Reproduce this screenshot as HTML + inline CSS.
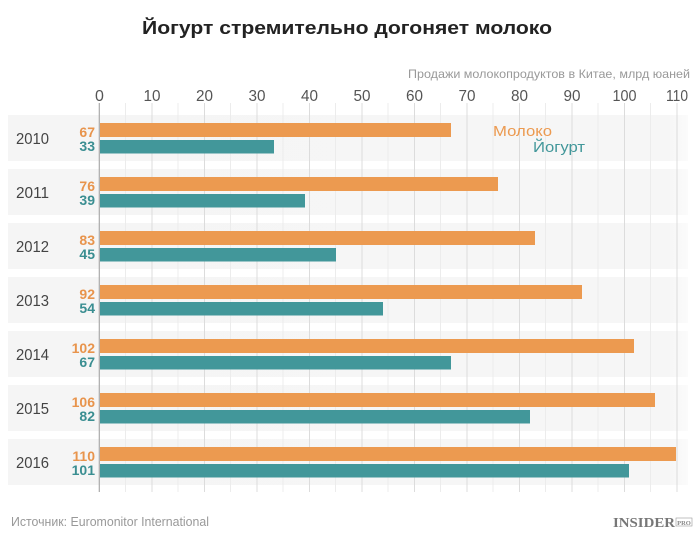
<!DOCTYPE html>
<html><head><meta charset="utf-8"><style>
html,body{margin:0;padding:0;background:#fff;}
svg{display:block;font-family:"Liberation Sans","DejaVu Sans",sans-serif;}
</style></head><body>
<svg width="700" height="539" viewBox="0 0 700 539" xmlns="http://www.w3.org/2000/svg">
<defs>
<linearGradient id="bandg" x1="0" x2="1" y1="0" y2="0">
<stop offset="0" stop-color="#f5f5f5"/><stop offset="0.97" stop-color="#f6f6f6"/><stop offset="1" stop-color="#fbfbfb"/>
</linearGradient>
</defs>
<rect width="700" height="539" fill="#fff"/>
<text x="142" y="34" font-size="18.5" font-weight="bold" fill="#222" textLength="410" lengthAdjust="spacingAndGlyphs">Йогурт стремительно догоняет молоко</text>
<text x="408" y="78" font-size="12" fill="#999" textLength="282" lengthAdjust="spacingAndGlyphs">Продажи молокопродуктов в Китае, млрд юаней</text>
<!-- bands -->
<g fill="url(#bandg)">
<rect x="8" y="115" width="680" height="46"/>
<rect x="8" y="169" width="680" height="46"/>
<rect x="8" y="223" width="680" height="46"/>
<rect x="8" y="277" width="680" height="46"/>
<rect x="8" y="331" width="680" height="46"/>
<rect x="8" y="385" width="680" height="46"/>
<rect x="8" y="439" width="680" height="46"/>
</g>
<!-- minor gridlines (5s) -->
<g stroke="#ececec" stroke-width="1">
<line x1="125.5" y1="103" x2="125.5" y2="492"/>
<line x1="178" y1="103" x2="178" y2="492"/>
<line x1="230.5" y1="103" x2="230.5" y2="492"/>
<line x1="283" y1="103" x2="283" y2="492"/>
<line x1="335.5" y1="103" x2="335.5" y2="492"/>
<line x1="388" y1="103" x2="388" y2="492"/>
<line x1="440.5" y1="103" x2="440.5" y2="492"/>
<line x1="493" y1="103" x2="493" y2="492"/>
<line x1="545.5" y1="103" x2="545.5" y2="492"/>
<line x1="598" y1="103" x2="598" y2="492"/>
<line x1="650.5" y1="103" x2="650.5" y2="492"/>
</g>
<!-- major gridlines (10s) -->
<g stroke="#dcdcdc" stroke-width="1">
<line x1="152" y1="103" x2="152" y2="492"/>
<line x1="204.5" y1="103" x2="204.5" y2="492"/>
<line x1="257" y1="103" x2="257" y2="492"/>
<line x1="309.5" y1="103" x2="309.5" y2="492"/>
<line x1="362" y1="103" x2="362" y2="492"/>
<line x1="414.5" y1="103" x2="414.5" y2="492"/>
<line x1="467" y1="103" x2="467" y2="492"/>
<line x1="519.5" y1="103" x2="519.5" y2="492"/>
<line x1="572" y1="103" x2="572" y2="492"/>
<line x1="624.5" y1="103" x2="624.5" y2="492"/>
<line x1="677" y1="103" x2="677" y2="492"/>
</g>
<!-- tick labels -->
<g font-size="16" fill="#555" text-anchor="middle">
<text x="99.5" y="101">0</text>
<text x="152" y="101" textLength="17" lengthAdjust="spacingAndGlyphs">10</text>
<text x="204.5" y="101" textLength="17" lengthAdjust="spacingAndGlyphs">20</text>
<text x="257" y="101" textLength="17" lengthAdjust="spacingAndGlyphs">30</text>
<text x="309.5" y="101" textLength="17" lengthAdjust="spacingAndGlyphs">40</text>
<text x="362" y="101" textLength="17" lengthAdjust="spacingAndGlyphs">50</text>
<text x="414.5" y="101" textLength="17" lengthAdjust="spacingAndGlyphs">60</text>
<text x="467" y="101" textLength="17" lengthAdjust="spacingAndGlyphs">70</text>
<text x="519.5" y="101" textLength="17" lengthAdjust="spacingAndGlyphs">80</text>
<text x="572" y="101" textLength="17" lengthAdjust="spacingAndGlyphs">90</text>
<text x="624.5" y="101" textLength="24" lengthAdjust="spacingAndGlyphs">100</text>
<text x="677" y="101" textLength="22" lengthAdjust="spacingAndGlyphs">110</text>
</g>
<!-- bars -->
<g fill="#ec9a50">
<rect x="100" y="123" width="351" height="14"/>
<rect x="100" y="177" width="398" height="14"/>
<rect x="100" y="231" width="435" height="14"/>
<rect x="100" y="285" width="482" height="14"/>
<rect x="100" y="339" width="534" height="14"/>
<rect x="100" y="393" width="555" height="14"/>
<rect x="100" y="447" width="576" height="14"/>
</g>
<g fill="#42979a">
<rect x="100" y="140" width="174" height="13.5"/>
<rect x="100" y="194" width="205" height="13.5"/>
<rect x="100" y="248" width="236" height="13.5"/>
<rect x="100" y="302" width="283" height="13.5"/>
<rect x="100" y="356" width="351" height="13.5"/>
<rect x="100" y="410" width="430" height="13.5"/>
<rect x="100" y="464" width="529" height="13.5"/>
</g>
<!-- axis -->
<line x1="99.3" y1="103" x2="99.3" y2="492" stroke="#aaa" stroke-width="1.2"/>
<!-- year labels -->
<g font-size="16" fill="#444">
<text x="16" y="144" textLength="33" lengthAdjust="spacingAndGlyphs">2010</text>
<text x="16" y="198" textLength="33" lengthAdjust="spacingAndGlyphs">2011</text>
<text x="16" y="252" textLength="33" lengthAdjust="spacingAndGlyphs">2012</text>
<text x="16" y="306" textLength="33" lengthAdjust="spacingAndGlyphs">2013</text>
<text x="16" y="360" textLength="33" lengthAdjust="spacingAndGlyphs">2014</text>
<text x="16" y="414" textLength="33" lengthAdjust="spacingAndGlyphs">2015</text>
<text x="16" y="468" textLength="33" lengthAdjust="spacingAndGlyphs">2016</text>
</g>
<!-- value labels -->
<g font-size="14" font-weight="bold" text-anchor="end">
<g fill="#e8944c">
<text x="95" y="137">67</text>
<text x="95" y="191">76</text>
<text x="95" y="245">83</text>
<text x="95" y="299">92</text>
<text x="95" y="353">102</text>
<text x="95" y="407">106</text>
<text x="95" y="461">110</text>
</g>
<g fill="#3a8e91">
<text x="95" y="151">33</text>
<text x="95" y="205">39</text>
<text x="95" y="259">45</text>
<text x="95" y="313">54</text>
<text x="95" y="367">67</text>
<text x="95" y="421">82</text>
<text x="95" y="475">101</text>
</g>
</g>
<!-- legend -->
<text x="493" y="136" font-size="15" fill="#ec9a50" textLength="59" lengthAdjust="spacingAndGlyphs">Молоко</text>
<text x="533" y="152" font-size="15" fill="#42979a" textLength="52" lengthAdjust="spacingAndGlyphs">Йогурт</text>
<!-- footer -->
<text x="11" y="526" font-size="12.5" fill="#999" textLength="198" lengthAdjust="spacingAndGlyphs">Источник: Euromonitor International</text>
<text x="613" y="527" font-family="Liberation Serif, serif" font-size="14" font-weight="bold" fill="#777" textLength="62" lengthAdjust="spacingAndGlyphs">INSIDER</text>
<rect x="676" y="518" width="16" height="8" fill="none" stroke="#999" stroke-width="0.6"/>
<text x="684" y="525" font-family="Liberation Serif, serif" font-size="6.5" font-weight="bold" fill="#888" text-anchor="middle">PRO</text>
</svg>
</body></html>
